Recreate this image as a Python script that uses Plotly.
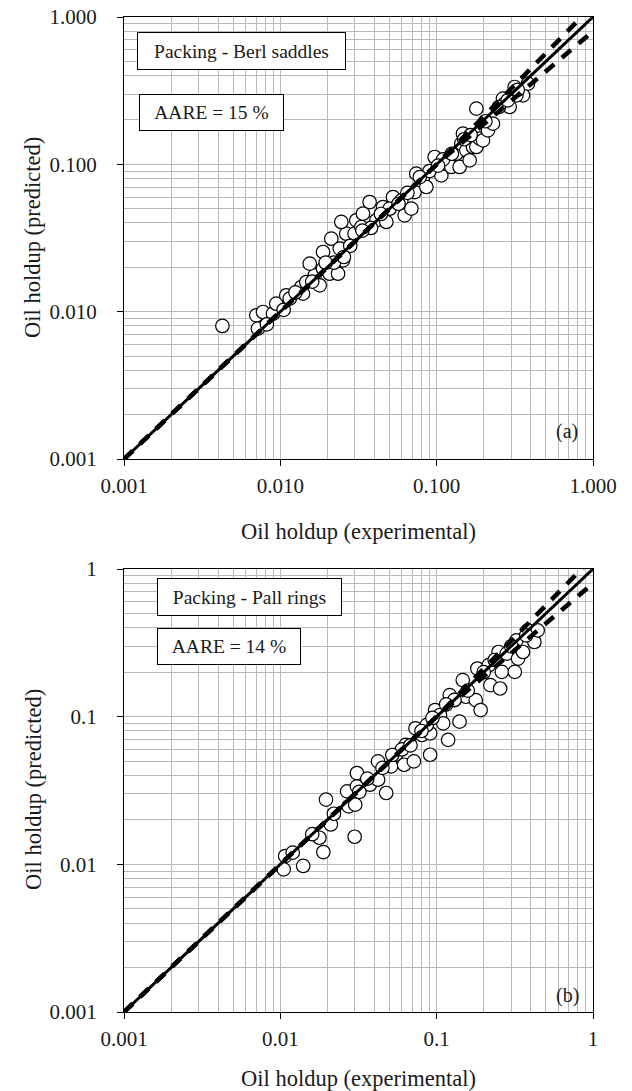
import plotly.graph_objects as go

# ---------------- data ----------------
# Panel (a): Berl saddles
berl_exp = [0.00426, 0.00702, 0.00774, 0.00719, 0.00898, 0.00942, 0.01092, 0.01148, 0.01362, 0.01396,
            0.01466, 0.01660, 0.01786, 0.01542, 0.01876, 0.02069, 0.02339, 0.02118, 0.01876, 0.02399,
            0.02518, 0.02642, 0.02985, 0.03062, 0.02455, 0.03296, 0.03724, 0.03378, 0.04113, 0.04764,
            0.04538, 0.05256, 0.05943, 0.06243, 0.06887, 0.07228, 0.07406, 0.08177, 0.08590, 0.09706,
            0.1071, 0.1125, 0.1181, 0.1241, 0.1402, 0.1336, 0.1438, 0.1473, 0.1548, 0.1626,
            0.1708, 0.1795, 0.1884, 0.1978, 0.1795, 0.2128, 0.2290, 0.2655, 0.2721, 0.2930,
            0.3154, 0.3565, 0.3837, 0.3236,
            0.0082, 0.0105, 0.016, 0.022, 0.028, 0.038, 0.050, 0.065, 0.090, 0.110, 0.150, 0.250, 0.330,
            0.0125, 0.0195, 0.0255, 0.0335, 0.044, 0.057, 0.078, 0.102, 0.125, 0.165, 0.205, 0.285]
berl_pred = [0.0080, 0.00945, 0.00995, 0.00767, 0.00969, 0.01133, 0.01291, 0.01226, 0.01470, 0.01325,
             0.01589, 0.01764, 0.01510, 0.02118, 0.01958, 0.01810, 0.01810, 0.03128, 0.02541, 0.02679,
             0.02230, 0.03383, 0.03383, 0.04169, 0.04064, 0.03756, 0.05546, 0.04624, 0.04169, 0.04064,
             0.05129, 0.05997, 0.05697, 0.04508, 0.05003, 0.06486, 0.08644, 0.08204, 0.07015, 0.1121,
             0.08415, 0.1011, 0.1065, 0.0960, 0.0960, 0.1181, 0.1380, 0.1615, 0.1245, 0.1065,
             0.1312, 0.1312, 0.1494, 0.1456, 0.2388, 0.1702, 0.1888, 0.2792, 0.2582, 0.2451,
             0.3350, 0.2939, 0.3529, 0.2939,
             0.0082, 0.0103, 0.016, 0.0215, 0.028, 0.037, 0.050, 0.064, 0.090, 0.108, 0.148, 0.245, 0.320,
             0.0135, 0.0215, 0.0235, 0.0355, 0.046, 0.054, 0.082, 0.098, 0.118, 0.158, 0.196, 0.272]

# Panel (b): Pall rings
pall_exp = [0.01074, 0.01050, 0.01400, 0.01778, 0.01884, 0.02104, 0.01959, 0.02735, 0.03013, 0.02675,
            0.03089, 0.03089, 0.02987, 0.03740, 0.04217, 0.04755, 0.04217, 0.05110, 0.05492, 0.06194,
            0.06339, 0.07148, 0.07322, 0.08061, 0.09085, 0.09085, 0.08655, 0.09770, 0.1050, 0.1101,
            0.1184, 0.1212, 0.1302, 0.1400, 0.1469, 0.1540, 0.1778, 0.1911, 0.1821, 0.2155,
            0.2206, 0.2547, 0.2611, 0.2489, 0.2805, 0.3162, 0.3236, 0.3317, 0.3566, 0.3829,
            0.4217, 0.4425, 0.3741,
            0.012, 0.016, 0.022, 0.032, 0.045, 0.060, 0.080, 0.130, 0.200, 0.300,
            0.036, 0.052, 0.068, 0.094, 0.115, 0.158, 0.235]
pall_pred = [0.01138, 0.00925, 0.00975, 0.01514, 0.01211, 0.01862, 0.02744, 0.02472, 0.02537, 0.03120,
             0.03373, 0.04150, 0.01537, 0.03461, 0.03741, 0.03041, 0.04977, 0.04603, 0.05520, 0.04723,
             0.06445, 0.04977, 0.08342, 0.07516, 0.07718, 0.05520, 0.08790, 0.1109, 0.1026, 0.09016,
             0.06966, 0.1400, 0.1295, 0.09254, 0.1768, 0.1364, 0.1295, 0.1109, 0.2118, 0.2231,
             0.1635, 0.1552, 0.2011, 0.2742, 0.2673, 0.2011, 0.3288, 0.2473, 0.2742, 0.3839,
             0.3204, 0.3839, 0.3554,
             0.012, 0.016, 0.022, 0.031, 0.045, 0.060, 0.080, 0.130, 0.200, 0.300,
             0.038, 0.055, 0.064, 0.098, 0.121, 0.150, 0.242]

# parity line and +/- deviation lines
parity = [0.001, 1.0]
dev_x = [0.001, 0.1, 1.0]
dev_up = [0.001, 0.1, 1.2]
dev_lo = [0.001, 0.1, 0.8]

# ticks
decades = [0.001, 0.01, 0.1, 1.0]
ticks_a = ["0.001", "0.010", "0.100", "1.000"]
ticks_b = ["0.001", "0.01", "0.1", "1"]
minor_vals = [m * d for d in [0.001, 0.01, 0.1] for m in range(2, 10)]

FONT = "Liberation Serif"
TXT = "#1a1a1a"
GRID = "#b9b9b9"

fig = go.Figure()

panels = [
    ("x", "y", berl_exp, berl_pred),
    ("x2", "y2", pall_exp, pall_pred),
]
for xa, ya, ex, pr in panels:
    fig.add_trace(go.Scatter(x=ex, y=pr, mode="markers", xaxis=xa, yaxis=ya,
                             marker=dict(symbol="circle", size=13.5, color="white",
                                         line=dict(color="black", width=1.2)),
                             showlegend=False, hoverinfo="skip"))
    fig.add_trace(go.Scatter(x=parity, y=parity, mode="lines", xaxis=xa, yaxis=ya,
                             line=dict(color="black", width=3), showlegend=False, hoverinfo="skip"))
    for dv in (dev_up, dev_lo):
        fig.add_trace(go.Scatter(x=dev_x, y=dv, mode="lines", xaxis=xa, yaxis=ya,
                                 line=dict(color="black", width=4.5, dash="12px,10px"),
                                 showlegend=False, hoverinfo="skip"))

W, H = 632, 1091
xdom = [124 / W, 593 / W]
ydom_a = [1 - 459 / H, 1 - 17 / H]
ydom_b = [1 - 1012 / H, 1 - 569 / H]


def axis(dom, anchor, ticktext, standoff):
    return dict(type="log", range=[-3, 0], domain=dom, anchor=anchor, automargin=False,
                tickmode="array", tickvals=decades, ticktext=ticktext,
                ticks="outside", ticklen=6, tickwidth=1, tickcolor="black",
                showline=True, linecolor="black", linewidth=1.3, mirror=True,
                showgrid=True, gridcolor=GRID, gridwidth=1,
                minor=dict(tickmode="array", tickvals=minor_vals, showgrid=True,
                           gridcolor=GRID, gridwidth=1, ticks=""),
                tickfont=dict(family=FONT, size=21, color=TXT),
                zeroline=False, ticklabelstandoff=standoff)


xa = axis(xdom, "y", ticks_a, 2)
ya = axis(ydom_a, "x", ticks_a, 16)
xb = axis(xdom, "y2", ticks_b, 2)
yb = axis(ydom_b, "x2", ticks_b, 16)

ann = []


def box(text, left, top, w, h):
    ann.append(dict(text=text, xref="paper", yref="paper", x=left / W, y=1 - top / H,
                    xanchor="left", yanchor="top", showarrow=False, width=w, height=h,
                    align="center", valign="middle",
                    bordercolor="black", borderwidth=1, borderpad=0, bgcolor="white",
                    font=dict(family=FONT, size=19.5, color=TXT)))


def label(text, cx, cy, angle=0, size=22.5):
    ann.append(dict(text=text, xref="paper", yref="paper", x=cx / W, y=1 - cy / H,
                    xanchor="center", yanchor="middle", showarrow=False, textangle=angle,
                    font=dict(family=FONT, size=size, color=TXT)))


box("Packing - Berl saddles", 137, 32, 207, 36)
box("AARE = 15 %", 139, 94, 143, 35)
box("Packing - Pall rings", 157, 578, 183, 36)
box("AARE = 14 %", 157, 628, 142, 35)

label("(a)", 567, 432, size=20)
label("(b)", 567, 995, size=20)
label("Oil holdup (experimental)", 358, 531)
label("Oil holdup (experimental)", 358, 1078)
label("Oil holdup (predicted)", 33, 238, angle=-90)
label("Oil holdup (predicted)", 33, 790, angle=-90)

fig.update_layout(width=W, height=H, margin=dict(l=0, r=0, t=0, b=0),
                  paper_bgcolor="white", plot_bgcolor="white",
                  xaxis=xa, yaxis=ya, xaxis2=xb, yaxis2=yb,
                  annotations=ann, showlegend=False)

fig.write_html("out.html")
